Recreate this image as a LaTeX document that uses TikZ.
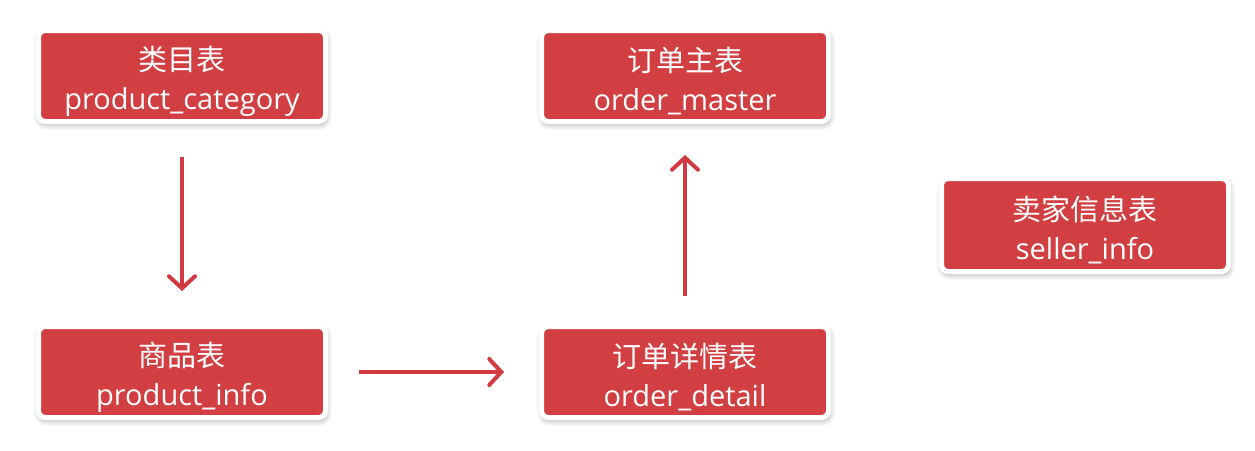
\documentclass[tikz,border=0pt]{standalone}
\usepackage{fontspec}
\setmainfont{Open Sans}
\newfontfamily\cjk{Noto Sans CJK SC}
\usetikzlibrary{arrows.meta,shadows.blur}
\definecolor{boxred}{HTML}{D13F42}
\definecolor{arrred}{HTML}{D03A40}
\newcommand\twoline[2]{\rule{0pt}{35pt}{\cjk #1}\\#2}
\tikzset{
  tbl/.style={fill=boxred, draw=white, line width=5pt, rounded corners=7pt,
    minimum width=287pt, minimum height=91pt, text=white, align=center,
    font=\fontsize{29}{39}\selectfont, inner sep=0pt,
    blur shadow={shadow blur radius=6pt, shadow xshift=1pt, shadow yshift=-3pt,
      shadow opacity=35, shadow blur steps=10}},
  link/.style={draw=arrred, line width=4pt,
    -{Straight Barb[length=12pt, width=26pt, line width=4pt, line cap=round]}}
}
\begin{document}
\begin{tikzpicture}[x=1pt, y=-1pt]
\useasboundingbox (0,0) rectangle (1255,450);
\node[tbl] (cat) at (182,76) {\twoline{类目表}{product\_category}};
\node[tbl] (master) at (685,76) {\twoline{订单主表}{order\_master}};
\node[tbl] (info) at (182,372) {\twoline{商品表}{product\_info}};
\node[tbl] (detail) at (685,372) {\twoline{订单详情表}{order\_detail}};
\node[tbl, minimum height=93pt] (seller) at (1085,225) {\twoline{卖家信息表}{seller\_info}};
\draw[link, shorten <=33pt, shorten >=33pt] (cat) -- (info);
\draw[link, shorten <=31pt, shorten >=35pt] (info) -- (detail);
\draw[link, shorten <=28pt, shorten >=31pt] (detail) -- (master);
\end{tikzpicture}
\end{document}
